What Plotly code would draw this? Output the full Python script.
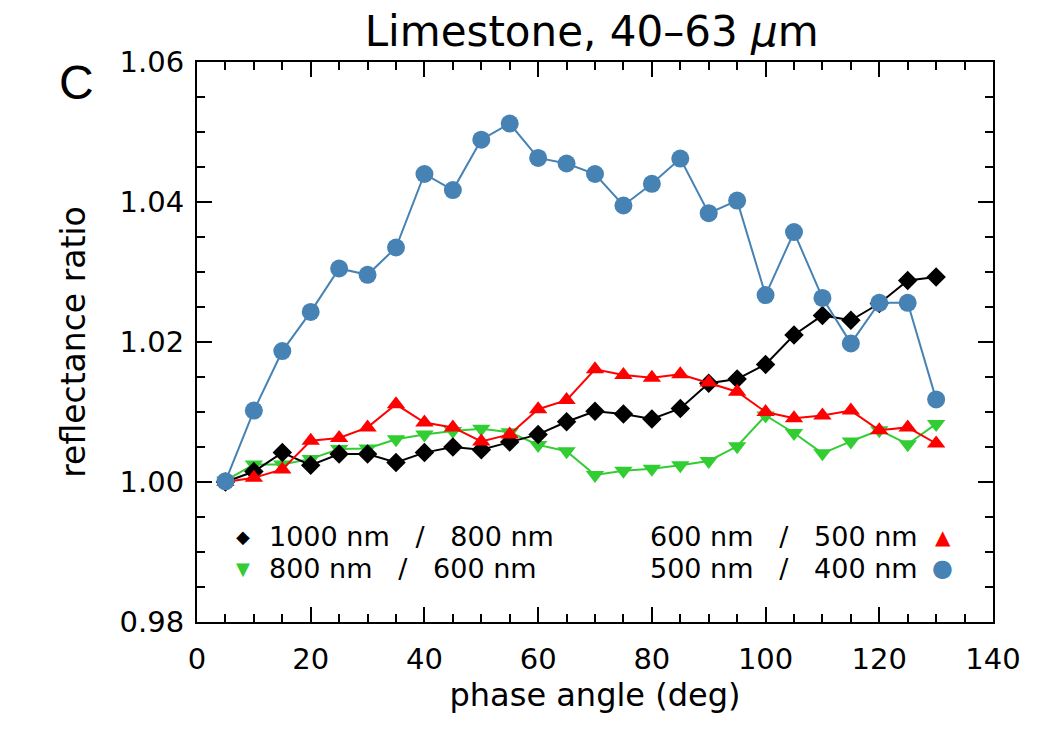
import plotly.graph_objects as go

phase = [5, 10, 15, 20, 25, 30, 35, 40, 45, 50, 55, 60, 65, 70, 75, 80, 85, 90, 95, 100, 105, 110, 115, 120, 125, 130]

r1000_800 = [1.0000, 1.0015, 1.0042, 1.0024, 1.0040, 1.0040, 1.0028, 1.0042, 1.0050, 1.0046, 1.0057, 1.0068, 1.0086,
             1.0101, 1.0097, 1.0090, 1.0105, 1.0141, 1.0147, 1.0168, 1.0210, 1.0238, 1.0231, 1.0255, 1.0288, 1.0293]
r800_600 = [1.0002, 1.0025, 1.0025, 1.0033, 1.0047, 1.0048, 1.0061, 1.0068, 1.0073, 1.0076, 1.0071, 1.0053, 1.0044,
            1.0010, 1.0016, 1.0019, 1.0024, 1.0030, 1.0051, 1.0095, 1.0070, 1.0041, 1.0058, 1.0074, 1.0054, 1.0083]
r600_500 = [1.0000, 1.0006, 1.0018, 1.0059, 1.0063, 1.0078, 1.0111, 1.0085, 1.0078, 1.0058, 1.0068, 1.0104, 1.0117,
            1.0161, 1.0153, 1.0149, 1.0154, 1.0142, 1.0129, 1.0100, 1.0091, 1.0095, 1.0102, 1.0074, 1.0078, 1.0055]
r500_400 = [1.0001, 1.0102, 1.0187, 1.0243, 1.0305, 1.0296, 1.0335, 1.0440, 1.0417, 1.0489, 1.0512, 1.0463, 1.0455,
            1.0440, 1.0395, 1.0426, 1.0462, 1.0384, 1.0402, 1.0267, 1.0357, 1.0263, 1.0198, 1.0256, 1.0256, 1.0118]

x_ticks = [0, 20, 40, 60, 80, 100, 120, 140]
y_ticks = [0.98, 1.00, 1.02, 1.04, 1.06]
y_ticklabels = ["0.98", "1.00", "1.02", "1.04", "1.06"]

title_text = "Limestone, 40\u201363 <i>\u03bc</i>m"
NB = "\u00a0\u00a0\u00a0"
legend_left = [("\u25c6", "black", 18, f"1000 nm{NB}/{NB}800 nm"),
               ("\u25bc", "#32CD32", 18, f"800 nm{NB}/{NB}600 nm")]
legend_right = [("\u25b2", "#FF0000", 20, f"600 nm{NB}/{NB}500 nm"),
                ("\u25cf", "#4682B4", 24, f"500 nm{NB}/{NB}400 nm")]

FONT = "DejaVu Sans"
WEIGHT = 400

fig = go.Figure()
fig.add_trace(go.Scatter(x=phase, y=r800_600, mode="lines+markers",
                         line=dict(color="#32CD32", width=2),
                         marker=dict(symbol="triangle-down", size=16, color="#32CD32")))
fig.add_trace(go.Scatter(x=phase, y=r1000_800, mode="lines+markers",
                         line=dict(color="black", width=2),
                         marker=dict(symbol="diamond", size=15, color="black")))
fig.add_trace(go.Scatter(x=phase, y=r600_500, mode="lines+markers",
                         line=dict(color="#FF0000", width=2),
                         marker=dict(symbol="triangle-up", size=16, color="#FF0000")))
fig.add_trace(go.Scatter(x=phase, y=r500_400, mode="lines+markers",
                         line=dict(color="#4682B4", width=2),
                         marker=dict(symbol="circle", size=18, color="#4682B4")))

axis_common = dict(showline=True, linecolor="black", linewidth=2, mirror="allticks",
                   ticks="inside", ticklen=15, tickwidth=2, tickcolor="black",
                   showgrid=False, zeroline=False,
                   tickfont=dict(family=FONT, size=29, color="black", weight=WEIGHT))

fig.update_xaxes(range=[0, 140], tickvals=x_ticks,
                 minor=dict(ticks="inside", dtick=5, ticklen=8, tickwidth=2, tickcolor="black", showgrid=False),
                 title=dict(text="phase angle (deg)", font=dict(family=FONT, size=32, color="black", weight=WEIGHT), standoff=6),
                 ticklabelstandoff=10, **axis_common)
fig.update_yaxes(range=[0.98, 1.06], tickvals=y_ticks, ticktext=y_ticklabels,
                 minor=dict(ticks="inside", dtick=0.005, tick0=0.98, ticklen=8, tickwidth=2, tickcolor="black", showgrid=False),
                 title=dict(text="reflectance ratio", font=dict(family=FONT, size=33, color="black", weight=WEIGHT), standoff=24),
                 ticklabelstandoff=5, **axis_common)

annotations = []
row_y = [0.152, 0.0964]
for i, (sym, col, sz, txt) in enumerate(legend_left):
    annotations.append(dict(xref="paper", yref="paper", x=0.0578, y=row_y[i], xanchor="center", yanchor="middle",
                            text=sym, showarrow=False,
                            font=dict(family="DejaVu Sans", size=sz, color=col)))
    annotations.append(dict(xref="paper", yref="paper", x=0.088, y=row_y[i], xanchor="left", yanchor="middle",
                            text=txt, showarrow=False,
                            font=dict(family=FONT, size=27, color="black", weight=WEIGHT)))
for i, (sym, col, sz, txt) in enumerate(legend_right):
    annotations.append(dict(xref="paper", yref="paper", x=0.937, y=row_y[i], xanchor="center", yanchor="middle",
                            text=sym, showarrow=False,
                            font=dict(family="DejaVu Sans", size=sz, color=col)))
    annotations.append(dict(xref="paper", yref="paper", x=0.908, y=row_y[i], xanchor="right", yanchor="middle",
                            text=txt, showarrow=False,
                            font=dict(family=FONT, size=27, color="black", weight=WEIGHT)))
annotations.append(dict(xref="paper", yref="paper", x=-0.1508, y=0.9634, xanchor="center", yanchor="middle",
                        text="C", showarrow=False, font=dict(family="Liberation Sans", size=48, color="black")))

fig.update_layout(
    width=1050, height=750,
    margin=dict(l=197, r=57, t=62, b=128),
    paper_bgcolor="white", plot_bgcolor="white",
    showlegend=False,
    title=dict(text=title_text, x=0.5635, xanchor="center", y=0.958, yanchor="middle",
               font=dict(family=FONT, size=42, color="black", weight=WEIGHT)),
    annotations=annotations,
)

fig.write_html("out.html")
